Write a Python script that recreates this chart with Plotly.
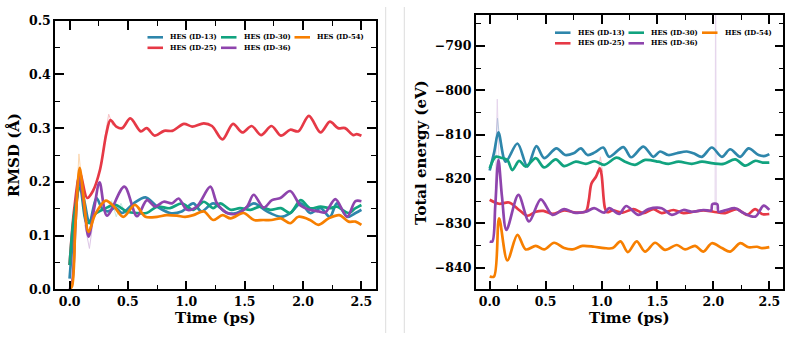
import plotly.graph_objects as go

W, H = 790, 343
def px(x): return x / W
def py(y): return 1 - y / H

SERIES = ["HES (ID-13)", "HES (ID-25)", "HES (ID-30)", "HES (ID-36)", "HES (ID-54)"]
COLORS = ["#2E86AB", "#E63946", "#11A37F", "#8E44AD", "#F77F00"]

# ---------------- RMSD (left) ----------------
rmsd_t_13 = [0, 0.04, 0.09, 0.13, 0.17, 0.23, 0.28, 0.33, 0.39, 0.45, 0.55, 0.65, 0.75, 0.86, 0.96, 1.06, 1.13, 1.23, 1.35, 1.43, 1.50, 1.58, 1.69, 1.81, 1.89, 1.98, 2.06, 2.15, 2.23, 2.29, 2.38, 2.45, 2.5]
rmsd_13 = [0.02, 0.12, 0.198, 0.16, 0.123, 0.17, 0.15, 0.145, 0.152, 0.142, 0.16, 0.171, 0.154, 0.142, 0.145, 0.16, 0.145, 0.16, 0.142, 0.142, 0.15, 0.16, 0.145, 0.135, 0.142, 0.16, 0.142, 0.151, 0.135, 0.16, 0.135, 0.142, 0.148]

rmsd_t_25 = [0, 0.04, 0.09, 0.15, 0.2, 0.26, 0.315, 0.35, 0.40, 0.45, 0.52, 0.61, 0.66, 0.73, 0.81, 0.88, 0.98, 1.05, 1.15, 1.22, 1.31, 1.40, 1.48, 1.56, 1.64, 1.73, 1.81, 1.89, 1.96, 2.05, 2.15, 2.23, 2.3, 2.36, 2.43, 2.46, 2.5]
rmsd_25 = [0.045, 0.15, 0.215, 0.17, 0.183, 0.222, 0.29, 0.315, 0.303, 0.30, 0.318, 0.294, 0.30, 0.286, 0.295, 0.295, 0.308, 0.303, 0.309, 0.304, 0.279, 0.308, 0.292, 0.304, 0.287, 0.304, 0.286, 0.297, 0.294, 0.323, 0.292, 0.312, 0.300, 0.300, 0.287, 0.289, 0.286]

rmsd_t_30 = [0, 0.04, 0.09, 0.15, 0.23, 0.30, 0.39, 0.49, 0.58, 0.66, 0.75, 0.86, 0.96, 1.06, 1.15, 1.23, 1.29, 1.38, 1.46, 1.55, 1.63, 1.72, 1.81, 1.89, 1.98, 2.06, 2.15, 2.23, 2.29, 2.39, 2.45, 2.5]
rmsd_30 = [0.045, 0.14, 0.19, 0.123, 0.142, 0.15, 0.157, 0.145, 0.142, 0.142, 0.154, 0.151, 0.16, 0.148, 0.163, 0.151, 0.16, 0.148, 0.151, 0.148, 0.154, 0.148, 0.151, 0.142, 0.166, 0.151, 0.154, 0.151, 0.154, 0.142, 0.151, 0.157]

rmsd_t_36 = [0, 0.02, 0.05, 0.08, 0.12, 0.163, 0.21, 0.257, 0.32, 0.469, 0.577, 0.663, 0.734, 0.806, 0.877, 0.934, 1.006, 1.09, 1.206, 1.263, 1.35, 1.44, 1.52, 1.577, 1.663, 1.734, 1.806, 1.89, 1.977, 2.06, 2.134, 2.19, 2.277, 2.377, 2.449, 2.5]
rmsd_36 = [0.0, 0.01, 0.12, 0.21, 0.16, 0.098, 0.15, 0.199, 0.137, 0.191, 0.136, 0.166, 0.154, 0.163, 0.16, 0.169, 0.148, 0.154, 0.191, 0.16, 0.142, 0.141, 0.154, 0.176, 0.152, 0.166, 0.17, 0.183, 0.156, 0.148, 0.145, 0.143, 0.168, 0.135, 0.164, 0.164]

rmsd_t_54 = [0, 0.02, 0.05, 0.086, 0.12, 0.163, 0.22, 0.31, 0.38, 0.46, 0.56, 0.65, 0.75, 0.83, 0.92, 0.99, 1.06, 1.15, 1.23, 1.31, 1.38, 1.49, 1.58, 1.66, 1.73, 1.81, 1.89, 1.96, 2.06, 2.13, 2.22, 2.31, 2.39, 2.45, 2.5]
rmsd_54 = [0.0, 0.005, 0.12, 0.226, 0.17, 0.107, 0.14, 0.165, 0.154, 0.135, 0.157, 0.135, 0.135, 0.138, 0.137, 0.135, 0.138, 0.145, 0.129, 0.138, 0.132, 0.142, 0.129, 0.129, 0.129, 0.132, 0.123, 0.135, 0.129, 0.12, 0.132, 0.138, 0.126, 0.126, 0.12]

# raw (unsmoothed) excursions visible as faint lines
rmsd_raw_t_25 = [0.30, 0.335, 0.37]
rmsd_raw_25 = [0.28, 0.326, 0.305]
rmsd_raw_t_30 = [0.28, 0.32, 0.36, 0.40, 0.44, 0.48]
rmsd_raw_30 = [0.16, 0.138, 0.165, 0.135, 0.16, 0.14]
rmsd_raw_t_36 = [0.13, 0.17, 0.21]
rmsd_raw_36 = [0.12, 0.076, 0.14]
rmsd_raw_t_54 = [0.05, 0.08, 0.11]
rmsd_raw_54 = [0.13, 0.252, 0.19]

# ---------------- Total energy (right) ----------------
en_t_13 = [0, 0.04, 0.078, 0.143, 0.248, 0.337, 0.418, 0.487, 0.597, 0.675, 0.75, 0.815, 0.875, 0.94, 1.015, 1.069, 1.195, 1.265, 1.374, 1.464, 1.523, 1.598, 1.673, 1.762, 1.822, 1.897, 1.986, 2.076, 2.15, 2.24, 2.315, 2.404, 2.464, 2.5]
en_13 = [-818.1, -814, -809.5, -816.1, -812, -817.2, -812.6, -815.3, -813.1, -814.6, -814.2, -813.1, -814.6, -814, -812.9, -815, -812.8, -815.1, -812.7, -815, -813.8, -814.6, -814.2, -813.8, -814.2, -815, -812.9, -815, -813.3, -815, -813.1, -814.6, -814.8, -814.4]

en_t_25 = [0, 0.084, 0.173, 0.263, 0.337, 0.412, 0.48, 0.561, 0.666, 0.77, 0.86, 0.885, 0.91, 0.95, 0.985, 1.0, 1.03, 1.05, 1.1, 1.188, 1.285, 1.374, 1.464, 1.538, 1.643, 1.732, 1.822, 1.911, 2.0, 2.105, 2.21, 2.3, 2.374, 2.434, 2.5]
en_25 = [-824.7, -825.6, -825.3, -827, -828.3, -827.4, -827.2, -827.9, -827.1, -827.6, -827.3, -825, -821, -819.5, -817.6, -819, -826.5, -827.5, -827.1, -827.6, -826.8, -827.7, -826.8, -827.7, -827, -827.7, -827.4, -827.1, -827.4, -827.7, -826.8, -828.1, -826.8, -827.9, -827.9]

en_t_30 = [0, 0.054, 0.1, 0.158, 0.203, 0.263, 0.322, 0.412, 0.487, 0.591, 0.666, 0.77, 0.86, 0.94, 1.024, 1.135, 1.21, 1.3, 1.39, 1.508, 1.598, 1.688, 1.807, 1.897, 2.0, 2.09, 2.195, 2.285, 2.374, 2.44, 2.5]
en_30 = [-817.6, -815, -815.2, -815.7, -818, -815.9, -817.2, -815.3, -817.4, -815.6, -817.1, -816.1, -816.6, -816, -816.8, -815.2, -816.1, -816.8, -815.7, -816.1, -816.6, -816.1, -816.6, -816.1, -816.5, -816.6, -815.6, -817, -815.9, -816.3, -816.3]

en_t_36 = [0, 0.024, 0.05, 0.078, 0.11, 0.15, 0.257, 0.352, 0.457, 0.561, 0.666, 0.755, 0.86, 0.934, 1.024, 1.069, 1.158, 1.22, 1.33, 1.42, 1.538, 1.628, 1.732, 1.807, 1.911, 1.98, 1.99, 2.035, 2.045, 2.105, 2.195, 2.27, 2.374, 2.449, 2.5]
en_36 = [-834.1, -834.1, -826, -815.7, -824, -831.5, -823.6, -829.6, -824.6, -828.1, -826.8, -827.6, -827.4, -826.6, -827.6, -826.6, -827.9, -826.1, -828.1, -826.8, -826.6, -828.1, -827, -827.4, -827, -827.1, -825.7, -825.7, -827.4, -827.1, -826.6, -827.7, -828.5, -826, -827]

en_t_54 = [0, 0.039, 0.084, 0.158, 0.248, 0.322, 0.412, 0.487, 0.576, 0.666, 0.74, 0.83, 0.934, 1.024, 1.1, 1.17, 1.235, 1.314, 1.389, 1.479, 1.568, 1.673, 1.747, 1.837, 1.911, 1.986, 2.076, 2.15, 2.24, 2.315, 2.39, 2.434, 2.5]
en_54 = [-842, -842, -828.9, -838.4, -832.6, -835.9, -835.1, -835.9, -834.4, -835.6, -835.9, -835.1, -835.3, -835.6, -835.6, -834.1, -836.5, -834.1, -836.4, -834.4, -836, -834.9, -835.9, -835.1, -836.4, -834.5, -835.6, -836.4, -834.5, -835.4, -835.3, -835.6, -835.4]

en_raw_t_13 = [0.05, 0.07, 0.09]
en_raw_13 = [-813, -806.3, -811]
en_raw_t_25 = [0.97, 0.99, 1.01]
en_raw_25 = [-818.5, -815, -818.5]
en_raw_t_36 = [0.05, 0.068, 0.085, 2.0, 2.015, 2.02, 2.025, 2.04]
en_raw_36 = [-822, -802, -818, None, -827, -770, -826, None]

X_TICKS = [0, 0.5, 1.0, 1.5, 2.0, 2.5]
RMSD_TICKS = [0.0, 0.1, 0.2, 0.3, 0.4, 0.5]
EN_TICKS = [-840, -830, -820, -810, -800, -790]

fig = go.Figure()

def faint(t, v, color, xa, ya, op=0.3):
    fig.add_trace(go.Scatter(x=t, y=v, mode="lines", xaxis=xa, yaxis=ya,
                             line=dict(color=color, width=1), opacity=op,
                             showlegend=False, hoverinfo="skip", connectgaps=False))

def thick(t, v, color, xa, ya, name):
    fig.add_trace(go.Scatter(x=t, y=v, mode="lines", xaxis=xa, yaxis=ya, name=name,
                             line=dict(color=color, width=2.7, shape="spline", smoothing=0.9),
                             showlegend=False))

faint(rmsd_raw_t_25, rmsd_raw_25, COLORS[1], "x", "y")
faint(rmsd_raw_t_30, rmsd_raw_30, COLORS[2], "x", "y", 0.25)
faint(rmsd_raw_t_36, rmsd_raw_36, COLORS[3], "x", "y")
faint(rmsd_raw_t_54, rmsd_raw_54, COLORS[4], "x", "y")
faint(en_raw_t_13, en_raw_13, COLORS[0], "x2", "y2")
faint(en_raw_t_25, en_raw_25, COLORS[1], "x2", "y2")
faint(en_raw_t_36, en_raw_36, COLORS[3], "x2", "y2", 0.22)

left = [(rmsd_t_13, rmsd_13), (rmsd_t_25, rmsd_25), (rmsd_t_30, rmsd_30), (rmsd_t_36, rmsd_36), (rmsd_t_54, rmsd_54)]
right = [(en_t_13, en_13), (en_t_25, en_25), (en_t_30, en_30), (en_t_36, en_36), (en_t_54, en_54)]
for i, (t, v) in enumerate(left):
    thick(t, v, COLORS[i], "x", "y", SERIES[i])
for i, (t, v) in enumerate(right):
    thick(t, v, COLORS[i], "x2", "y2", SERIES[i])

FONT = "DejaVu Serif"
tickfont = dict(family=FONT, size=12.5, color="black", weight=700)

def axis_common():
    return dict(showline=True, linecolor="black", linewidth=1.6, mirror="ticks",
                ticks="inside", ticklen=9, tickwidth=1.6, tickcolor="black",
                showgrid=False, zeroline=False, tickfont=tickfont, automargin=False,
                minor=dict(ticks="inside", ticklen=5, tickwidth=1.4, tickcolor="black", showgrid=False))

xa = axis_common()
xa.update(domain=[px(55), px(376)], range=[-0.125, 2.625], tickvals=X_TICKS, tickformat=".1f", anchor="y")
xa["minor"]["dtick"] = 0.25
xa["minor"]["tick0"] = 0
ya = axis_common()
ya.update(domain=[py(289.3), py(20.7)], range=[0, 0.5], tickvals=RMSD_TICKS, tickformat=".1f", anchor="x")
ya["minor"]["dtick"] = 0.05
ya["minor"]["tick0"] = 0
xa2 = axis_common()
xa2.update(domain=[px(475.7), px(783.3)], range=[-0.125, 2.625], tickvals=X_TICKS, tickformat=".1f", anchor="y2")
xa2["minor"]["dtick"] = 0.25
xa2["minor"]["tick0"] = 0
ya2 = axis_common()
ya2.update(domain=[py(289.3), py(15)], range=[-844.9, -783.0], tickvals=EN_TICKS, anchor="x2")
ya2["minor"]["dtick"] = 5
ya2["minor"]["tick0"] = -840

annotations = []
shapes = []

def legend(x0s, ys, entries):
    # entries: list of (series index, col, row)
    for idx, col, row in entries:
        x0 = x0s[col]
        y = ys[row]
        shapes.append(dict(type="line", xref="paper", yref="paper",
                           x0=px(x0), x1=px(x0 + 15.5), y0=py(y), y1=py(y),
                           line=dict(color=COLORS[idx], width=2.6)))
        annotations.append(dict(text=SERIES[idx], xref="paper", yref="paper",
                                x=px(x0 + 20.5), y=py(y), xanchor="left", yanchor="middle",
                                showarrow=False, font=dict(family=FONT, size=6.8, color="black", weight=700)))

legend([147.5, 221, 294.5], [37.3, 47.8], [(0, 0, 0), (1, 0, 1), (2, 1, 0), (3, 1, 1), (4, 2, 0)])
legend([555, 628.5, 702], [32.7, 43.3], [(0, 0, 0), (1, 0, 1), (2, 1, 0), (3, 1, 1), (4, 2, 0)])

titlefont = dict(family=FONT, size=15, color="black", weight=700)
annotations += [
    dict(text="RMSD (Å)", xref="paper", yref="paper", x=px(14), y=py(155), textangle=-90,
         showarrow=False, xanchor="center", yanchor="middle", font=titlefont),
    dict(text="Time (ps)", xref="paper", yref="paper", x=px(215), y=py(318),
         showarrow=False, xanchor="center", yanchor="middle", font=titlefont),
    dict(text="Total energy (eV)", xref="paper", yref="paper", x=px(420.5), y=py(152.5), textangle=-90,
         showarrow=False, xanchor="center", yanchor="middle", font=titlefont),
    dict(text="Time (ps)", xref="paper", yref="paper", x=px(629), y=py(318),
         showarrow=False, xanchor="center", yanchor="middle", font=titlefont),
]

for xs in (385.7, 404.3):
    shapes.append(dict(type="line", xref="paper", yref="paper", x0=px(xs), x1=px(xs),
                       y0=py(7), y1=py(333), line=dict(color="#dddddd", width=1)))

fig.update_layout(
    width=W, height=H, margin=dict(l=0, r=0, t=0, b=0),
    paper_bgcolor="white", plot_bgcolor="white", showlegend=False,
    xaxis=xa, yaxis=ya, xaxis2=xa2, yaxis2=ya2,
    annotations=annotations, shapes=shapes,
)

fig.write_html("out.html")
